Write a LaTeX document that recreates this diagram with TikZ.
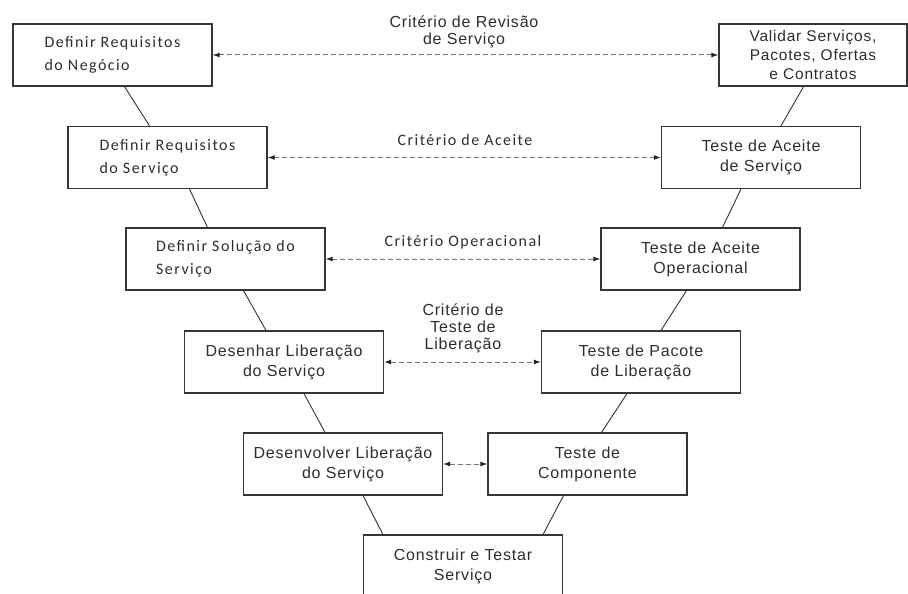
\documentclass[tikz,border=0pt]{standalone}
\usepackage{fontspec}
\setmainfont{Liberation Sans}
\newfontfamily\calfont[LetterSpace=9]{Carlito}
\newfontfamily\arfont[LetterSpace=5]{Liberation Sans}
\usetikzlibrary{arrows.meta,calc}
\definecolor{boxc}{HTML}{363636}
\definecolor{txt}{HTML}{2E2E2E}
\definecolor{linec}{HTML}{333333}
\definecolor{dashc}{HTML}{767676}
\definecolor{arrc}{HTML}{242424}
\tikzset{
  box/.style={draw=boxc, line width=1.3pt, fill=white, minimum width=199pt, minimum height=62pt, inner sep=0pt, text=txt},
  lbox/.style={box, align=left, font=\calfont\fontsize{16}{23}\selectfont},
  rbox/.style={box, align=center, font=\arfont\fontsize{16}{20}\selectfont},
  link/.style={draw=linec, line width=0.9pt},
  crit/.style={draw=dashc, line width=1pt, dash pattern=on 5pt off 3pt,
    {Latex[length=7pt,width=5pt,color=arrc]}-{Latex[length=7pt,width=5pt,color=arrc]}},
  lab/.style={text=txt, align=center, font=\arfont\fontsize{16}{17}\selectfont},
  labc/.style={text=txt, align=center, font=\calfont\fontsize{16}{19}\selectfont}
}
\begin{document}
\begin{tikzpicture}[x=1pt,y=-1pt]
\clip (0,0) rectangle (908,594);
\fill[white] (0,0) rectangle (908,594);
% left branch
\node[lbox] (b1) at (112.5,55) {Definir Requisitos\\do Negócio};
\node[lbox] (b2) at (167.5,157.5) {Definir Requisitos\\do Serviço};
\node[lbox] (b3) at (225.5,259) {Definir Solução do\\Serviço};
\node[rbox] (b4) at (284,362) {Desenhar Liberação\\do Serviço};
\node[rbox] (b5) at (343,464) {Desenvolver Liberação\\do Serviço};
% bottom
\node[rbox] (b6) at (463,566) {Construir e Testar\\Serviço};
% right branch
\node[rbox] (b7) at (587.5,464) {Teste de\\Componente};
\node[rbox] (b8) at (641,362) {Teste de Pacote\\de Liberação};
\node[rbox] (b9) at (700.5,259) {Teste de Aceite\\Operacional};
\node[rbox] (b10) at (761,157.5) {Teste de Aceite\\de Serviço};
\node[rbox, minimum width=188pt, font=\arfont\fontsize{15.5}{19}\selectfont] (b11) at (813,55) {Validar Serviços,\\Pacotes, Ofertas\\e Contratos};
% solid links
\draw[link] ($(b1.south west)!0.56!(b1.south east)$) -- ($(b2.north west)!0.41!(b2.north east)$);
\draw[link] ($(b2.south west)!0.61!(b2.south east)$) -- ($(b3.north west)!0.41!(b3.north east)$);
\draw[link] ($(b3.south west)!0.59!(b3.south east)$) -- ($(b4.north west)!0.41!(b4.north east)$);
\draw[link] ($(b4.south west)!0.60!(b4.south east)$) -- ($(b5.north west)!0.41!(b5.north east)$);
\draw[link] ($(b5.south west)!0.60!(b5.south east)$) -- ($(b6.north west)!0.10!(b6.north east)$);
\draw[link] ($(b7.south west)!0.38!(b7.south east)$) -- ($(b6.north west)!0.90!(b6.north east)$);
\draw[link] ($(b8.south west)!0.43!(b8.south east)$) -- ($(b7.north west)!0.57!(b7.north east)$);
\draw[link] ($(b9.south west)!0.43!(b9.south east)$) -- ($(b8.north west)!0.60!(b8.north east)$);
\draw[link] ($(b10.south west)!0.40!(b10.south east)$) -- ($(b9.north west)!0.61!(b9.north east)$);
\draw[link] ($(b11.south west)!0.45!(b11.south east)$) -- ($(b10.north west)!0.60!(b10.north east)$);
% dashed criteria
\draw[crit] (b1.east) -- (b11.west);
\draw[crit] (b2.east) -- (b10.west);
\draw[crit] (b3.east) -- (b9.west);
\draw[crit] (b4.east) -- (b8.west);
\draw[crit] (b5.east) -- (b7.west);
% labels
\node[lab] (l1) at (464,32) {Critério de Revisão\\de Serviço};
\node[labc] (l2) at (465,140) {Critério de Aceite};
\node[labc] (l3) at (463,242) {Critério Operacional};
\node[lab] (l4) at (463,328) {Critério de\\Teste de\\Liberação};
\end{tikzpicture}
\end{document}
